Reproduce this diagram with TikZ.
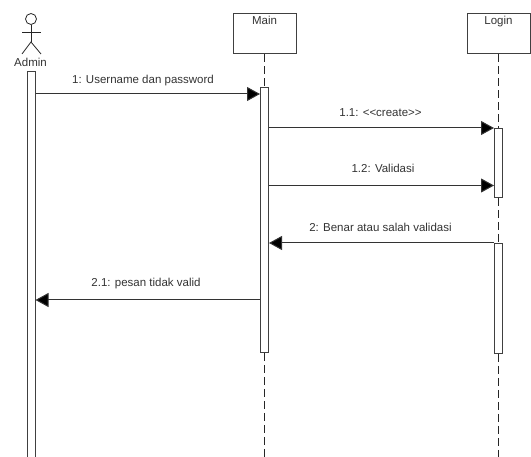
\documentclass[tikz,border=0pt]{standalone}
\usepackage{fontspec}
\setmainfont{Liberation Sans}
\usepackage{xcolor}
\usetikzlibrary{arrows.meta,positioning}
\definecolor{linegrey}{gray}{0.25}
\definecolor{textgrey}{gray}{0.2}

\begin{document}
\begin{tikzpicture}[x=1pt, y=-1pt,
    classbox/.style = {draw=linegrey, fill=white, line width=1pt,
        minimum width=63pt, minimum height=40pt, inner sep=0pt,
        text depth=27pt, text height=9pt, anchor=north, font=\fontsize{11.5}{13}\selectfont,
        text=textgrey},
    bar/.style = {draw=linegrey, fill=white, line width=1pt, inner sep=0pt,
        minimum width=8pt, anchor=north},
    lifeline/.style = {draw=black!85, line width=0.9pt, dash pattern=on 8pt off 4pt},
    msg/.style = {-{Triangle[length=13pt,width=14pt,fill=black]}, draw=black!80, line width=1pt},
    msglabel/.style = {text=textgrey, inner sep=0pt, font=\fontsize{11.5}{13}\selectfont},
    limb/.style = {draw=black!85, line width=0.8pt}]

  \useasboundingbox (0,0) rectangle (531,457);

  \coordinate (rowA) at (0,94);
  \coordinate (rowB) at (0,128);
  \coordinate (rowC) at (0,185.5);
  \coordinate (rowD) at (0,243);
  \coordinate (rowE) at (0,300);

  \node [classbox] (Main) at (264.5,13.5) {Main};
  \node [classbox] (Login) at (498.5,13.5) {Login};

  % actor
  \node [draw=black!85, line width=0.8pt, circle, minimum size=11pt, inner sep=0pt] (head) at (31,19) {};
  \coordinate (hip) at (31,42);
  \coordinate (armL) at (22,32);
  \coordinate (armR) at (41,32);
  \coordinate (footL) at (22,54);
  \coordinate (footR) at (41,54);
  \draw [limb] (head.south) -- (hip);
  \draw [limb] (armL) -- (armR);
  \draw [limb] (footL) -- (hip) -- (footR);
  \node [msglabel] (Admin) at (30.5,62) {Admin};

  \node [bar, minimum height=400pt] (adminBar) at (31,71) {};
  \node [bar, minimum height=265pt] (mainBar) at (264.5,87) {};
  \node [bar, minimum height=69pt] (loginBarA) at (498.5,128) {};
  \node [bar, minimum height=110pt] (loginBarB) at (498.5,243) {};

  \coordinate (mainEnd) at (264.5,457);
  \coordinate (loginEnd) at (498.5,457);

  \draw [lifeline] (Main.south) -- (mainBar.north);
  \draw [lifeline] (mainBar.south) -- (mainEnd);
  \draw [lifeline] (Login.south) -- (loginBarA.north);
  \draw [lifeline] (loginBarA.south) -- (loginBarB.north);
  \draw [lifeline] (loginBarB.south) -- (loginEnd);

  \draw [msg] (adminBar.east |- rowA) -- (mainBar.west |- rowA);
  \draw [msg] (mainBar.east |- rowB) -- (loginBarA.west |- rowB);
  \draw [msg] (mainBar.east |- rowC) -- (loginBarA.west |- rowC);
  \draw [msg] (loginBarB.west |- rowD) -- (mainBar.east |- rowD);
  \draw [msg] (mainBar.west |- rowE) -- (adminBar.east |- rowE);

  \node [msglabel] (labelA) at (143,81) {1: Username dan password};
  \node [msglabel] (labelB) at (380.5,112.5) {1.1: <{}<create>{}>};
  \node [msglabel] (labelC) at (383,168.5) {1.2: Validasi};
  \node [msglabel] (labelD) at (380.5,227) {2: Benar atau salah validasi};
  \node [msglabel] (labelE) at (146,284) {2.1: pesan tidak valid};
\end{tikzpicture}
\end{document}
